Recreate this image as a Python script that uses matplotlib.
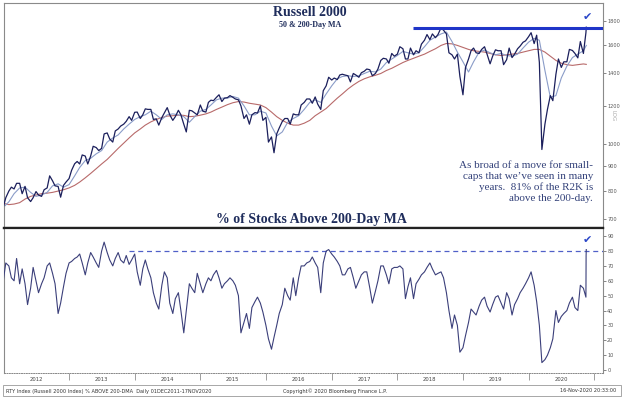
import matplotlib
matplotlib.use('Agg')
import matplotlib.pyplot as plt
import matplotlib.ticker as mticker
import matplotlib.dates as mdates
from matplotlib.patches import Rectangle
import pandas as pd

# ---------------- DATA ----------------
# Russell 2000 index, semi-monthly (1st & 15th) Dec-2011 .. mid-Nov-2020, then 17-Nov-2020
rty_values = [
    745, 720, 741, 775, 800, 815, 808, 830, 830, 790, 818, 775, 761, 775, 798, 785, 780, 805, 812, 860, 840, 820, 818, 777,
    822, 835, 849, 883, 911, 921, 910, 950, 945, 910, 945, 990, 984, 970, 980, 1050, 1055, 1025, 1010, 1065, 1075, 1090, 1100, 1115,
    1140, 1120, 1164, 1165, 1130, 1150, 1183, 1180, 1180, 1125, 1128, 1095, 1135, 1160, 1190, 1150, 1120, 1140, 1175, 1150, 1100, 1060, 1175, 1172,
    1160, 1150, 1205, 1170, 1165, 1220, 1233, 1230, 1250, 1265, 1225, 1245, 1248, 1260, 1250, 1240, 1235, 1200, 1130, 1150, 1100, 1150, 1162, 1160,
    1200, 1120, 1136, 1010, 1035, 960, 1050, 1080, 1114, 1130, 1130, 1100, 1155, 1150, 1150, 1205, 1220, 1240, 1240, 1215, 1252, 1210, 1180, 1290,
    1320, 1375, 1357, 1370, 1360, 1390, 1395, 1390, 1385, 1345, 1400, 1390, 1375, 1405, 1415, 1430, 1425, 1385, 1400, 1430, 1490, 1505, 1500, 1470,
    1540, 1520, 1535, 1590, 1575, 1500, 1500, 1580, 1530, 1560, 1545, 1610, 1640, 1685, 1645, 1690, 1660, 1685, 1740, 1720, 1690, 1545, 1530, 1500,
    1535, 1380, 1265, 1440, 1500, 1560, 1580, 1545, 1540, 1570, 1590, 1535, 1466, 1520, 1567, 1560, 1560, 1460, 1495, 1580, 1510, 1535, 1575, 1595,
    1624, 1635, 1668, 1700, 1614, 1680, 1476, 975, 1100, 1180, 1260, 1230, 1394, 1500, 1441, 1480, 1480, 1570, 1562, 1540, 1508, 1630, 1540, 1700,
    1745,
]
rty_dates = list(pd.date_range('2011-12-01', '2020-11-15', freq='SMS')) + [pd.Timestamp('2020-11-17')]

# Moving averages, monthly (1st of month) Dec-2011 .. Nov-2020, then 17-Nov-2020
ma200_values = [
    765,
    755, 750, 752, 757, 770, 780, 785, 790, 792, 795, 800, 805,
    812, 822, 835, 852, 870, 890, 910, 930, 955, 980, 1005, 1030,
    1055, 1075, 1095, 1112, 1125, 1135, 1143, 1145, 1148, 1147, 1140, 1142,
    1148, 1155, 1165, 1180, 1193, 1207, 1218, 1225, 1222, 1215, 1210, 1205,
    1190, 1165, 1140, 1120, 1105, 1095, 1095, 1105, 1120, 1145, 1165, 1185,
    1215, 1245, 1270, 1300, 1325, 1348, 1365, 1378, 1388, 1400, 1420, 1435,
    1455, 1475, 1490, 1505, 1520, 1535, 1555, 1575, 1600, 1615, 1612, 1600,
    1585, 1570, 1560, 1555, 1550, 1540, 1530, 1525, 1530, 1535, 1540, 1550,
    1560, 1570, 1570, 1550, 1520, 1490, 1470, 1460, 1455, 1460, 1465,
    1462,
]
ma50_values = [
    735,
    740, 760, 790, 812, 815, 795, 780, 785, 795, 820, 828, 815,
    825, 860, 895, 925, 935, 955, 970, 1010, 1030, 1045, 1075, 1100,
    1125, 1140, 1150, 1170, 1150, 1125, 1150, 1155, 1150, 1140, 1110, 1140,
    1170, 1180, 1205, 1235, 1245, 1245, 1255, 1245, 1200, 1150, 1150, 1170,
    1160, 1090, 1040, 1060, 1110, 1130, 1145, 1180, 1220, 1235, 1220, 1270,
    1320, 1365, 1380, 1385, 1380, 1385, 1400, 1415, 1410, 1430, 1475, 1500,
    1525, 1555, 1545, 1535, 1545, 1590, 1640, 1665, 1690, 1705, 1630, 1550,
    1480, 1410, 1480, 1550, 1565, 1545, 1530, 1540, 1525, 1520, 1535, 1580,
    1625, 1655, 1640, 1420, 1250, 1260, 1370, 1450, 1510, 1535, 1560,
    1600,
]
ma_dates = list(pd.date_range('2011-12-01', '2020-11-01', freq='MS')) + [pd.Timestamp('2020-11-17')]

# % of Russell 2000 stocks above their 200-day MA, semi-monthly from 15-Dec-2011
pct_values = [
    47, 60, 72, 70, 62, 60, 75, 58, 68, 58, 44, 55, 69, 60, 52, 58, 62, 70, 72, 65, 58, 38, 45, 56,
    65, 72, 73, 75, 76, 78, 72, 64, 72, 79, 76, 72, 69, 80, 86, 79, 74, 70, 75, 79, 74, 72, 77, 71,
    74, 78, 66, 57, 68, 74, 68, 62, 52, 45, 41, 57, 66, 62, 45, 38, 48, 52, 40, 25, 40, 58, 55, 52,
    65, 58, 52, 58, 62, 60, 64, 67, 62, 55, 58, 60, 62, 60, 57, 50, 25, 32, 38, 28, 42, 46, 49, 45,
    39, 30, 21, 14, 22, 30, 38, 44, 55, 50, 47, 62, 50, 62, 70, 70, 72, 73, 76, 72, 69, 52, 72, 80,
    81, 78, 76, 73, 70, 64, 64, 68, 69, 62, 55, 60, 64, 66, 66, 55, 45, 53, 60, 70, 70, 64, 58, 68,
    69, 69, 70, 68, 48, 56, 62, 48, 58, 61, 64, 66, 69, 72, 68, 64, 65, 66, 62, 52, 40, 28, 37, 30,
    12, 15, 23, 32, 41, 39, 37, 43, 47, 49, 43, 39, 44, 49, 50, 45, 41, 52, 48, 37, 44, 48, 52, 55,
    58, 62, 66, 57, 46, 30, 5, 7, 10, 15, 21, 40, 32, 36, 38, 40, 45, 49, 42, 40, 57, 55, 49,
    77, 81,
]
pct_dates = (list(pd.date_range('2011-12-15', '2020-11-15', freq='SMS'))
             + [pd.Timestamp('2020-11-16'), pd.Timestamp('2020-11-17')])

resistance_level = 1740
resistance_start = pd.Timestamp('2018-03-28')
pct_threshold = 80
pct_threshold_start = pd.Timestamp('2013-12-01')

rty_ticks = [700, 800, 900, 1000, 1200, 1400, 1600, 1800]
pct_ticks = [0, 10, 20, 30, 40, 50, 60, 70, 80, 90]
x_start = pd.Timestamp('2012-01-05')
x_end = pd.Timestamp('2021-02-18')

title_top = 'Russell 2000'
subtitle_top = '50 & 200-Day MA'
title_bottom = '% of Stocks Above 200-Day MA'
note_text = ("As broad of a move for small-\ncaps that we\u2019ve seen in many\n"
             "years.  81% of the R2K is\nabove the 200-day.")
footer_left = 'RTY Index (Russell 2000 Index) % ABOVE 200-DMA  Daily 01DEC2011-17NOV2020'
footer_mid = 'Copyright\u00a9 2020 Bloomberg Finance L.P.'
footer_right = '16-Nov-2020 20:33:00'

# ---------------- FIGURE ----------------
W, H = 624, 397
fig = plt.figure(figsize=(W / 100, H / 100), dpi=100)
fig.patch.set_facecolor('white')

L, R = 4, 603
ax1 = fig.add_axes([L / W, 1 - 228 / H, (R - L) / W, (228 - 3) / H])
ax2 = fig.add_axes([L / W, 1 - 373 / H, (R - L) / W, (373 - 228) / H], sharex=ax1)

serif = ['Liberation Serif', 'DejaVu Serif']
navy = '#1f2d5c'

# top panel
ax1.plot(ma_dates, ma200_values, color='#b86a6a', lw=0.8, zorder=2)
ax1.plot(ma_dates, ma50_values, color='#8a9cc8', lw=0.8, zorder=2)
ax1.plot(rty_dates, rty_values, color='#1b1f5c', lw=0.9, zorder=3)
ax1.plot([resistance_start, x_end], [resistance_level, resistance_level],
         color='#1f35c8', lw=2.2, zorder=4, solid_capstyle='butt')
ax1.set_yscale('log')
ax1.set_ylim(671, 1958)
ax1.yaxis.set_major_locator(mticker.FixedLocator(rty_ticks))
ax1.yaxis.set_minor_locator(mticker.NullLocator())
ax1.yaxis.set_major_formatter(mticker.FuncFormatter(lambda v, p: f'{v:.0f}'))
ax1.yaxis.tick_right()
ax1.tick_params(axis='y', labelsize=3.6, colors='#555555', length=2, width=0.5, pad=1)
ax1.tick_params(axis='x', which='both', bottom=False, labelbottom=False)
ax1.text(pd.Timestamp('2020-11-22'), 1835, '\u2714', color='#2a46c8', fontsize=8,
         ha='center', va='center', family='DejaVu Sans', zorder=5)

# bottom panel
ax2.plot([pct_threshold_start, x_end], [pct_threshold, pct_threshold],
         color='#5060c8', lw=0.9, ls=(0, (4, 3)), zorder=2)
ax2.plot(pct_dates, pct_values, color='#3b3f7a', lw=0.8, zorder=3)
ax2.set_ylim(-2, 95.5)
ax2.yaxis.set_major_locator(mticker.FixedLocator(pct_ticks))
ax2.yaxis.tick_right()
ax2.tick_params(axis='y', labelsize=3.6, colors='#555555', length=2, width=0.5, pad=1)
ax2.text(pd.Timestamp('2020-11-22'), 87.5, '\u2714', color='#2a46c8', fontsize=8,
         ha='center', va='center', family='DejaVu Sans', zorder=5)

ax2.set_xlim(x_start, x_end)
ax2.xaxis.set_major_locator(mdates.YearLocator())
ax2.xaxis.set_major_formatter(mticker.NullFormatter())
ax2.xaxis.set_minor_locator(mdates.MonthLocator(bymonth=7))
ax2.xaxis.set_minor_formatter(mdates.DateFormatter('%Y'))
ax2.tick_params(axis='x', which='major', length=5, width=0.5, color='#777777', direction='out')
ax2.tick_params(axis='x', which='minor', length=0, labelsize=3.8, labelcolor='#444444', pad=3)

for ax in (ax1, ax2):
    for s in ('top', 'left', 'right'):
        ax.spines[s].set_color('#8a8a8a')
        ax.spines[s].set_linewidth(0.8)
ax1.spines['bottom'].set_color('#222222')
ax1.spines['bottom'].set_linewidth(1.6)
ax2.spines['top'].set_color('#222222')
ax2.spines['top'].set_linewidth(1.6)
ax2.spines['bottom'].set_color('#888888')
ax2.spines['bottom'].set_linestyle((0, (1, 1.5)))
ax2.spines['bottom'].set_linewidth(0.7)

# texts
fig.text(310 / W, 1 - 13 / H, title_top, ha='center', va='center', fontsize=10,
         fontweight='bold', family=serif, color=navy)
fig.text(310 / W, 1 - 25 / H, subtitle_top, ha='center', va='center', fontsize=5.8,
         fontweight='bold', family=serif, color=navy)
fig.text(311 / W, 1 - 220 / H, title_bottom, ha='center', va='center', fontsize=10,
         fontweight='bold', family=serif, color=navy)
fig.text(593 / W, 1 - 161 / H, note_text, ha='right', va='top', fontsize=8,
         family=serif, color='#34427a', linespacing=1.25, multialignment='right')
fig.text(613 / W, 1 - 116 / H, 'LOG', rotation=270, ha='center', va='center',
         fontsize=4, color='#aaaaaa')

fig.text(6 / W, 1 - 391 / H, footer_left, ha='left', va='center', fontsize=3.6, color='#333333')
fig.text(335 / W, 1 - 391 / H, footer_mid, ha='center', va='center', fontsize=3.6, color='#333333')
fig.text(616 / W, 1 - 391 / H, footer_right, ha='right', va='center', fontsize=3.6, color='#333333')
fig.patches.append(Rectangle((3 / W, 1 - 396 / H), 618 / W, 11 / H, transform=fig.transFigure,
                             fill=False, edgecolor='#999999', lw=0.6))

fig.savefig('out.png', dpi=100, facecolor='white')
